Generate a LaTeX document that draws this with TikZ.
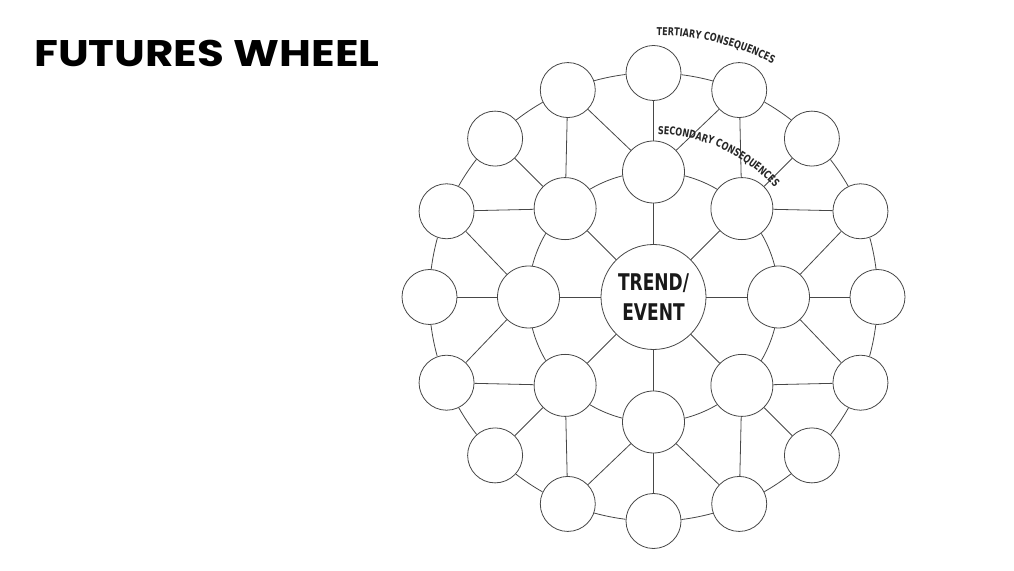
\documentclass[tikz,border=0pt]{standalone}
\usepackage{fontspec}
\usetikzlibrary{decorations.text}
\newfontfamily\titlefont[FakeStretch=1.18]{Poppins}
\newfontfamily\dinfont[FakeStretch=0.74]{DejaVu Sans}
\newcommand{\labfont}{\dinfont\bfseries\fontsize{10.9}{12}\selectfont}
\begin{document}
\begin{tikzpicture}[
  conn/.style={draw=black!72, line width=0.8pt},
  bubble/.style={circle, draw=black!72, line width=0.8pt, fill=white, inner sep=0pt},
  hub/.style={bubble, minimum size=105pt},
  sec/.style={bubble, minimum size=62pt},
  ter/.style={bubble, minimum size=55pt},
]
\useasboundingbox (0,0) rectangle (1014pt,570pt);
\coordinate (C) at (653.5pt,273pt);

\node[anchor=base west, inner sep=0pt, font=\titlefont\bfseries\fontsize{37}{40}\selectfont] (title) at (34pt,503pt) {FUTURES WHEEL};

\node[hub, align=center, font=\dinfont\bfseries\fontsize{23}{30}\selectfont, text=black!90] (hub) at (C) {TREND/\\EVENT};

\foreach \i in {0,...,7}
  \node[sec] (s\i) at ([shift={(\i*45:125pt)}]C) {};
\foreach \j in {0,...,15}
  \node[ter] (t\j) at ([shift={(\j*22.5:224pt)}]C) {};

% spokes
\foreach \i in {0,...,7} {
  \pgfmathtruncatemacro{\tm}{2*\i}
  \pgfmathtruncatemacro{\tl}{mod(2*\i+15,16)}
  \pgfmathtruncatemacro{\tr}{2*\i+1}
  \draw[conn] (hub) -- (s\i);
  \draw[conn] (s\i) -- (t\tm);
  \draw[conn] (s\i) -- (t\tl);
  \draw[conn] (s\i) -- (t\tr);
}
% inner ring arcs between secondary bubbles
\pgfmathsetmacro{\als}{2*asin(31.4/250)}
\foreach \i in {0,...,7} {
  \pgfmathsetmacro{\anc}{\i*45+90+\als/2}
  \pgfmathsetmacro{\sa}{\i*45+\als}
  \pgfmathsetmacro{\da}{45-2*\als}
  \draw[conn] (s\i.\anc) arc[start angle=\sa, delta angle=\da, radius=125pt];
}
% outer ring arcs between tertiary bubbles
\pgfmathsetmacro{\alt}{2*asin(27.9/448)}
\foreach \j in {0,...,15} {
  \pgfmathsetmacro{\anc}{\j*22.5+90+\alt/2}
  \pgfmathsetmacro{\sa}{\j*22.5+\alt}
  \pgfmathsetmacro{\da}{22.5-2*\alt}
  \draw[conn] (t\j.\anc) arc[start angle=\sa, delta angle=\da, radius=224pt];
}

\path[decorate, decoration={text along path, text={|\labfont\color{black!85}|TERTIARY CONSEQUENCES}, text align=left}]
  ([shift={(89.3:262pt)}]C) arc[start angle=89.3, end angle=30, radius=262pt];
\path[decorate, decoration={text along path, text={|\labfont\color{black!85}|SECONDARY CONSEQUENCES}, text align=left}]
  ([shift={(88.5:163pt)}]C) arc[start angle=88.5, end angle=20, radius=163pt];
\end{tikzpicture}
\end{document}
